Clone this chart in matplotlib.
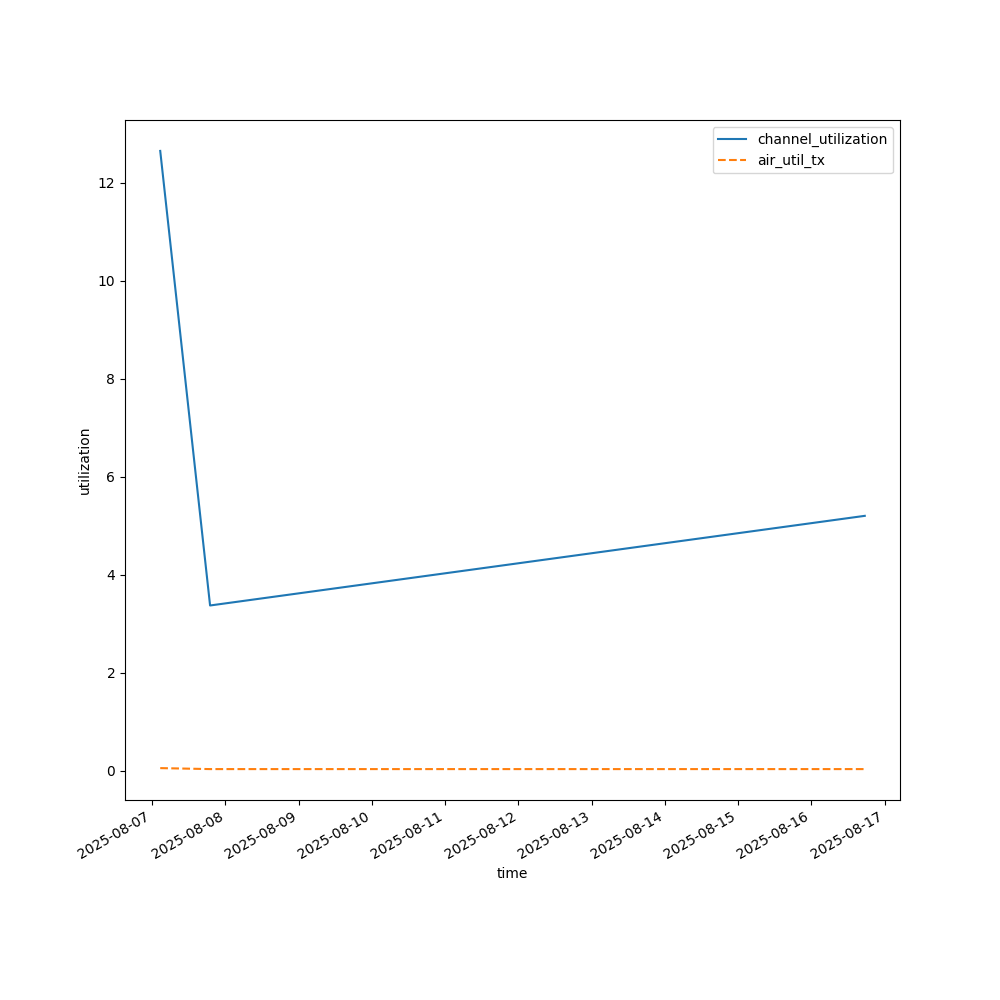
import pandas as pd
import matplotlib
matplotlib.use("Agg")
from matplotlib import pyplot as plt

# readings
times = ["2025-08-07 02:40", "2025-08-07 19:00", "2025-08-16 17:30"]
channel_utilization = [12.65, 3.37, 5.20]
air_util_tx = [0.05, 0.03, 0.03]

df = pd.DataFrame({
    "time": pd.to_datetime(times),
    "channel_utilization": channel_utilization,
    "air_util_tx": air_util_tx,
})

fig, ax = plt.subplots(figsize=(10, 10), dpi=100)
ax.plot(df["time"], df["channel_utilization"], label="channel_utilization")
ax.plot(df["time"], df["air_util_tx"], "--", label="air_util_tx")
ax.set_xlabel("time")
ax.set_ylabel("utilization")
ax.legend()
fig.autofmt_xdate()

fig.savefig("out.png")
